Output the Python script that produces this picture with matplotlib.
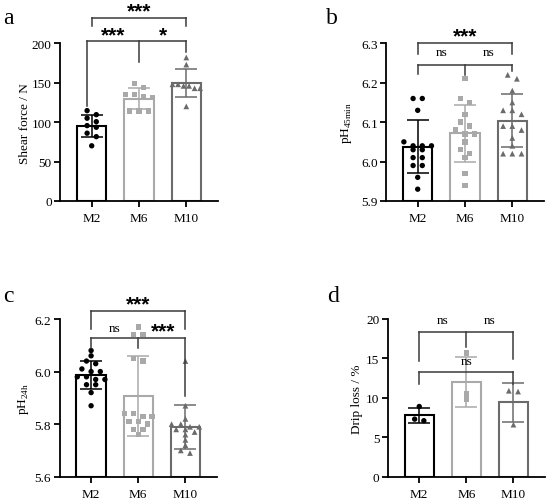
import numpy as np
import matplotlib
matplotlib.use("Agg")
import matplotlib.pyplot as plt

plt.rcParams['font.family'] = ['Liberation Serif', 'DejaVu Serif']
plt.rcParams['mathtext.fontset'] = 'custom'
plt.rcParams['mathtext.rm'] = 'Liberation Serif'

groups = ['M2', 'M6', 'M10']

# Panel a: shear force / N
shear_M2 = [114.6, 109.5, 105.0, 100.6, 95.6, 93.5, 86.0, 81.6, 70.0]
shear_M6 = [149, 144, 135, 135, 132, 131, 114, 114, 114]
shear_M10 = [182, 173, 148, 148, 146, 146, 143, 143, 120]

# Panel b: pH 45 min
ph45_M2 = [6.16, 6.16, 6.13, 6.05, 6.04, 6.04, 6.04, 6.03, 6.03, 6.01, 6.01, 5.99, 5.99, 5.96, 5.93]
ph45_M6 = [6.21, 6.16, 6.15, 6.12, 6.10, 6.09, 6.08, 6.07, 6.07, 6.05, 6.03, 6.02, 6.01, 5.97, 5.94]
ph45_M10 = [6.22, 6.21, 6.18, 6.15, 6.13, 6.13, 6.12, 6.09, 6.09, 6.08, 6.06, 6.04, 6.02, 6.02, 6.02]

# Panel c: pH 24 h
ph24_M2 = [6.08, 6.06, 6.04, 6.03, 6.01, 6.00, 6.00, 5.98, 5.98, 5.97, 5.97, 5.95, 5.95, 5.92, 5.87]
ph24_M6 = [6.17, 6.14, 6.14, 6.05, 6.04, 5.84, 5.84, 5.83, 5.83, 5.81, 5.81, 5.80, 5.78, 5.78, 5.76]
ph24_M10 = [6.04, 5.87, 5.82, 5.80, 5.80, 5.79, 5.79, 5.78, 5.78, 5.77, 5.76, 5.74, 5.72, 5.70, 5.69]

# Panel d: drip loss / %
drip_M2 = [8.9, 7.3, 7.1]
drip_M6 = [15.7, 10.5, 9.8]
drip_M10 = [10.9, 10.8, 6.6]

colors = ['#000000', '#A9A9A9', '#6B6B6B']
markers = ['o', 's', '^']
msize = [15, 15, 17]

W, H = 550, 502
fig = plt.figure(figsize=(W / 100, H / 100), dpi=100)


def make_axes(l, b, w, h):
    return fig.add_axes([l / W, 1 - (b) / H, w / W, h / H])


def row_offsets(ax, xc, vals, spacing=9.2, mind=5.0, maxw=27.6):
    """GraphPad-like scatter: points close in y share a row, centred."""
    pxx = ax.transData.transform((1, 0))[0] - ax.transData.transform((0, 0))[0]
    ypx = [ax.transData.transform((xc, v))[1] for v in vals]
    order = sorted(range(len(vals)), key=lambda i: -ypx[i])
    rows, cur = [], []
    for i in order:
        if cur and ypx[cur[0]] - ypx[i] > mind:
            rows.append(cur)
            cur = []
        cur.append(i)
    if cur:
        rows.append(cur)
    res = [0.0] * len(vals)
    for r in rows:
        n = len(r)
        sp = spacing if n < 2 else min(spacing, maxw / (n - 1))
        for j, i in enumerate(r):
            res[i] = (j - (n - 1) / 2) * sp / pxx
    return res


def panel(ax, data, ylim, yticks, yticklabels, ylabel, labx):
    ax.set_xlim(-0.67, 2.67)
    ax.set_ylim(*ylim)
    base = ylim[0]
    for i, vals in enumerate(data):
        vals = np.asarray(vals, float)
        m = vals.mean()
        sd = vals.std(ddof=1)
        ax.bar(i, m - base, bottom=base, width=0.62, facecolor='white',
               edgecolor=colors[i], linewidth=1.5, zorder=1)
        ax.errorbar(i, m, yerr=sd, fmt='none', ecolor=colors[i], elinewidth=1.1,
                    capsize=8, capthick=1.1, zorder=2)
        offs = row_offsets(ax, i, vals)
        ax.scatter(np.array(offs) + i, vals, marker=markers[i], s=msize[i],
                   color=colors[i], edgecolors='none', zorder=3, clip_on=False)
    for s in ['top', 'right']:
        ax.spines[s].set_visible(False)
    for s in ['left', 'bottom']:
        ax.spines[s].set_linewidth(1.3)
    ax.set_xticks(range(3))
    ax.set_xticklabels(groups, fontsize=9.5)
    ax.set_yticks(yticks)
    ax.set_yticklabels(yticklabels, fontsize=9.5)
    ax.tick_params(axis='both', direction='out', length=4, width=1.3, pad=2)
    ax.tick_params(axis='x', pad=4)
    ax.set_ylabel(ylabel, fontsize=9.5)
    ax.yaxis.set_label_coords(labx / 158, 0.5)
    ax.yaxis.label.set_va('center')


LC = '#3a3a3a'


def hline(ax, x0, x1, y):
    ax.plot([x0, x1], [y, y], color=LC, lw=1.1, clip_on=False, zorder=4)


def vline(ax, x, y0, y1):
    ax.plot([x, x], [y0, y1], color=LC, lw=1.1, clip_on=False, zorder=4)


def stars(ax, x, y, s):
    ax.text(x, y, s, ha='center', va='center', fontsize=15, fontweight='bold',
            family='Liberation Sans', clip_on=False)


def ns(ax, x, y):
    ax.text(x, y, 'ns', ha='center', va='center', fontsize=9.5, clip_on=False)


# ---- panel a
axa = make_axes(60, 202, 158, 157.7)
panel(axa, [shear_M2, shear_M6, shear_M10], (0, 200), [0, 50, 100, 150, 200],
      ['0', '50', '100', '150', '200'], 'Shear force / N', -35)
hline(axa, 0, 2, 232); vline(axa, 0, 222, 232); vline(axa, 2, 222, 232)
stars(axa, 1, 241, '***')
hline(axa, -0.09, 2, 203.4); vline(axa, -0.09, 120, 203.4); vline(axa, 1, 176, 203.4)
vline(axa, 2, 189, 203.4)
stars(axa, 0.45, 211, '***'); stars(axa, 1.5, 211, '*')

# ---- panel b
axb = make_axes(386, 202, 158, 157.7)
panel(axb, [ph45_M2, ph45_M6, ph45_M10], (5.9, 6.3), [5.9, 6.0, 6.1, 6.2, 6.3],
      ['5.9', '6.0', '6.1', '6.2', '6.3'], r'pH$_{\mathregular{45min}}$', -39)
hline(axb, 0, 2, 6.30); vline(axb, 0, 6.273, 6.30); vline(axb, 2, 6.273, 6.30)
stars(axb, 1, 6.319, '***')
hline(axb, 0, 2, 6.246); vline(axb, 0, 6.222, 6.246); vline(axb, 1, 6.22, 6.246)
vline(axb, 2, 6.231, 6.246)
ns(axb, 0.5, 6.278); ns(axb, 1.5, 6.278)

# ---- panel c
axc = make_axes(59.5, 477.7, 157.5, 157.7)
panel(axc, [ph24_M2, ph24_M6, ph24_M10], (5.6, 6.2), [5.6, 5.8, 6.0, 6.2],
      ['5.6', '5.8', '6.0', '6.2'], r'pH$_{\mathregular{24h}}$', -36)
hline(axc, 0, 2, 6.229); vline(axc, 0, 6.162, 6.229); vline(axc, 2, 6.162, 6.229)
stars(axc, 1, 6.258, '***')
hline(axc, 0, 2, 6.127); vline(axc, 0, 6.089, 6.127); vline(axc, 1, 6.089, 6.127)
vline(axc, 2, 5.908, 6.127)
ns(axc, 0.5, 6.165); stars(axc, 1.52, 6.153, '***')

# ---- panel d
axd = make_axes(387.7, 477.7, 157.3, 157.7)
panel(axd, [drip_M2, drip_M6, drip_M10], (0, 20), [0, 5, 10, 15, 20],
      ['0', '5', '10', '15', '20'], 'Drip loss / %', -31)
hline(axd, 0, 2, 18.3); vline(axd, 0, 14.7, 18.3); vline(axd, 1, 16.5, 18.3)
vline(axd, 2, 14.9, 18.3)
ns(axd, 0.5, 19.9); ns(axd, 1.5, 19.9)
hline(axd, 0, 2, 13.3); vline(axd, 0, 11.8, 13.3); vline(axd, 2, 11.8, 13.3)
ns(axd, 1, 14.7)

for lab, x, y in [('a', 8.3, 19), ('b', 331.7, 19), ('c', 8.3, 296.7), ('d', 333.3, 296.7)]:
    fig.text(x / W, 1 - y / H, lab, ha='center', va='center', fontsize=17)

fig.savefig('out.png', dpi=100)
